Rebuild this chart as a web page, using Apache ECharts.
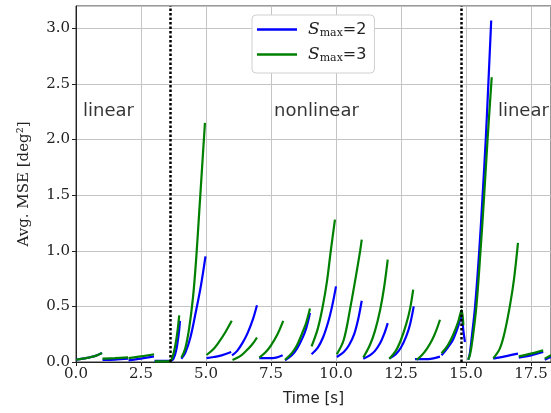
<!DOCTYPE html>
<html>
<head>
<meta charset="utf-8">
<script src="https://cdn.jsdelivr.net/npm/echarts@6/dist/echarts.min.js"></script>
<style>
  html, body { margin: 0; padding: 0; background: #fff; }
  #chart { width: 551px; height: 413px; }
</style>
</head>
<body>
<div id="chart"></div>
<script>
// segments of avg MSE, one list of [time, value] per 1 s window
var blueSegments = [
    [[0, 0.02], [0.25, 0.03], [0.5, 0.04], [0.75, 0.055], [1.0, 0.08]],
    [[1.02, 0.02], [1.5, 0.022], [2.0, 0.03]],
    [[2.02, 0.015], [2.5, 0.03], [3.0, 0.05]],
    [[3.02, 0.01], [3.4, 0.01], [3.66, 0.012], [3.75, 0.03], [3.85, 0.1], [3.95, 0.25], [4.0, 0.37]],
    [[4.05, 0.03], [4.2, 0.08], [4.4, 0.22], [4.6, 0.44], [4.8, 0.68], [4.98, 0.95]],
    [[5.02, 0.035], [5.3, 0.045], [5.6, 0.06], [5.97, 0.09]],
    [[6.0, 0.06], [6.2, 0.1], [6.4, 0.17], [6.6, 0.26], [6.8, 0.38], [6.96, 0.51]],
    [[7.05, 0.035], [7.4, 0.035], [7.7, 0.04], [7.95, 0.06]],
    [[8.04, 0.015], [8.3, 0.06], [8.5, 0.12], [8.7, 0.21], [8.85, 0.3], [9.0, 0.44]],
    [[9.06, 0.07], [9.3, 0.13], [9.5, 0.22], [9.7, 0.36], [9.85, 0.5], [10.0, 0.68]],
    [[10.03, 0.045], [10.3, 0.09], [10.5, 0.15], [10.7, 0.25], [10.85, 0.38], [10.99, 0.55]],
    [[11.05, 0.03], [11.3, 0.06], [11.5, 0.1], [11.7, 0.17], [11.85, 0.25], [11.99, 0.35]],
    [[12.05, 0.03], [12.3, 0.07], [12.5, 0.13], [12.7, 0.23], [12.85, 0.34], [12.99, 0.5]],
    [[13.04, 0.025], [13.4, 0.025], [13.7, 0.03], [14.0, 0.048]],
    [[14.06, 0.06], [14.3, 0.13], [14.5, 0.2], [14.7, 0.32], [14.83, 0.42], [14.9, 0.28], [14.96, 0.18]],
    [[15.09, 0.02], [15.15, 0.08], [15.24, 0.26], [15.35, 0.5], [15.51, 1.0], [15.64, 1.5], [15.76, 2.0], [15.86, 2.5], [15.97, 3.07]],
    [[16.05, 0.03], [16.5, 0.05], [17.0, 0.075]],
    [[17.03, 0.04], [17.5, 0.06], [17.97, 0.09]],
    [[18.03, 0.02], [18.3, 0.05]]
];
var greenSegments = [
    [[0, 0.02], [0.25, 0.03], [0.5, 0.04], [0.75, 0.055], [1.0, 0.08]],
    [[1.02, 0.03], [1.5, 0.035], [2.0, 0.042]],
    [[2.02, 0.035], [2.5, 0.05], [3.0, 0.07]],
    [[3.03, 0.005], [3.4, 0.005], [3.62, 0.008], [3.72, 0.05], [3.82, 0.15], [3.9, 0.27], [3.97, 0.42]],
    [[4.06, 0.04], [4.2, 0.12], [4.35, 0.3], [4.5, 0.58], [4.62, 0.92], [4.74, 1.35], [4.85, 1.75], [4.96, 2.15]],
    [[5.02, 0.063], [5.3, 0.12], [5.5, 0.18], [5.75, 0.27], [5.99, 0.37]],
    [[6.02, 0.018], [6.3, 0.05], [6.5, 0.09], [6.75, 0.15], [6.96, 0.22]],
    [[7.05, 0.04], [7.3, 0.09], [7.5, 0.15], [7.75, 0.25], [7.97, 0.37]],
    [[8.04, 0.02], [8.3, 0.08], [8.5, 0.15], [8.7, 0.26], [8.85, 0.35], [9.0, 0.48]],
    [[9.06, 0.14], [9.3, 0.3], [9.49, 0.5], [9.65, 0.72], [9.8, 1.0], [9.96, 1.28]],
    [[10.03, 0.07], [10.3, 0.2], [10.56, 0.5], [10.75, 0.75], [10.93, 1.0], [10.99, 1.1]],
    [[11.05, 0.04], [11.3, 0.15], [11.5, 0.28], [11.7, 0.47], [11.85, 0.67], [11.99, 0.92]],
    [[12.05, 0.03], [12.3, 0.1], [12.5, 0.2], [12.7, 0.34], [12.85, 0.48], [12.97, 0.65]],
    [[13.1, 0.02], [13.3, 0.06], [13.5, 0.12], [13.7, 0.2], [13.85, 0.28], [14.0, 0.38]],
    [[14.06, 0.078], [14.3, 0.15], [14.5, 0.24], [14.7, 0.36], [14.83, 0.467], [14.9, 0.33]],
    [[15.08, 0.02], [15.15, 0.06], [15.25, 0.2], [15.4, 0.5], [15.56, 1.0], [15.7, 1.5], [15.83, 2.0], [15.99, 2.56]],
    [[16.05, 0.033], [16.3, 0.12], [16.5, 0.28], [16.7, 0.52], [16.85, 0.75], [17.0, 1.07]],
    [[17.03, 0.05], [17.5, 0.075], [17.97, 0.105]],
    [[18.03, 0.03], [18.3, 0.065]]
];
var seriesNames = ['S_max=2', 'S_max=3'];
var switchTimes = [3.62, 14.81];   // linear <-> nonlinear
var regionLabels = [['linear', 0.27, 2.25], ['nonlinear', 7.62, 2.25], ['linear', 16.23, 2.25]];

// join segments, null between them so line breaks
function joinSegments(segs) {
    var out = [];
    segs.forEach(function (seg, i) {
        if (i > 0) out.push([seg[0][0], null]);
        seg.forEach(function (p) { out.push(p); });
    });
    return out;
}

var myChart = echarts.init(document.getElementById('chart'));
var serif = 'DejaVu Serif';
var option = {
    animation: false,
    backgroundColor: '#fff',
    grid: {
        left: 76, right: 0, top: 6, bottom: 51,
        show: true, borderColor: '#333', borderWidth: 1
    },
    legend: {
        data: seriesNames,
        left: 252, top: 15,
        orient: 'vertical',
        icon: 'rect',
        itemWidth: 40, itemHeight: 2.5, itemGap: 7,
        padding: [6, 8, 9, 5],
        backgroundColor: '#fff',
        borderColor: '#d0d0d0', borderWidth: 1, borderRadius: 4,
        formatter: function (name) {
            return '{s|S}{sub|max}{eq|=' + name.split('=')[1] + '}';
        },
        textStyle: {
            rich: {
                s: { fontFamily: serif, fontStyle: 'italic', fontSize: 17, color: '#222', padding: [0, 0, 0, 6] },
                sub: { fontFamily: serif, fontSize: 11, color: '#222', padding: [8, 0, 0, 0] },
                eq: { fontFamily: 'DejaVu Sans', fontSize: 16, color: '#222' }
            }
        }
    },
    xAxis: {
        type: 'value',
        min: 0, max: 18.27, interval: 2.5,
        name: 'Time [s]',
        nameLocation: 'middle', nameGap: 30,
        nameTextStyle: { fontFamily: 'DejaVu Sans', fontSize: 15, color: '#222' },
        axisLine: { lineStyle: { color: '#222', width: 1 } },
        axisTick: { show: true, length: 4, lineStyle: { color: '#222' } },
        axisLabel: {
            showMaxLabel: false, margin: 5,
            fontFamily: serif, fontSize: 15, color: '#222',
            formatter: function (v) { return v.toFixed(1); }
        },
        splitLine: { show: true, lineStyle: { color: '#c4c4c4', width: 1 } }
    },
    yAxis: {
        type: 'value',
        min: 0, max: 3.2, interval: 0.5,
        name: 'Avg. MSE [deg²]',
        nameLocation: 'middle', nameGap: 44,
        nameTextStyle: { fontFamily: serif, fontSize: 15, color: '#222' },
        axisLine: { show: true, lineStyle: { color: '#222', width: 1 } },
        axisTick: { show: true, length: 4, lineStyle: { color: '#222' } },
        axisLabel: {
            showMaxLabel: false, margin: 6,
            fontFamily: serif, fontSize: 15, color: '#222',
            formatter: function (v) { return v.toFixed(1); }
        },
        splitLine: { show: true, lineStyle: { color: '#c4c4c4', width: 1 } }
    },
    series: [{
        name: seriesNames[0],
        type: 'line',
        data: joinSegments(blueSegments),
        symbol: 'none',
        smooth: 0.35,
        connectNulls: false,
        lineStyle: { color: '#0000ff', width: 2.2 },
        itemStyle: { color: '#0000ff' },
        markLine: {
            silent: true,
            symbol: ['none', 'none'],
            label: { show: false },
            lineStyle: { color: '#000', type: [2.5, 2], width: 2.5 },
            data: switchTimes.map(function (t) { return { xAxis: t }; })
        }
    }, {
        name: seriesNames[1],
        type: 'line',
        data: joinSegments(greenSegments),
        symbol: 'none',
        smooth: 0.35,
        connectNulls: false,
        lineStyle: { color: '#008000', width: 2.2 },
        itemStyle: { color: '#008000' }
    }, {
        name: 'regions',
        type: 'scatter',
        silent: true,
        symbolSize: 0,
        data: regionLabels.map(function (r) { return [r[1], r[2], r[0]]; }),
        label: {
            show: true, position: 'right', distance: 0,
            fontFamily: 'DejaVu Sans', fontSize: 18, color: '#000',
            formatter: function (p) { return p.data[2]; }
        }
    }]
};
myChart.setOption(option);
</script>
</body>
</html>
